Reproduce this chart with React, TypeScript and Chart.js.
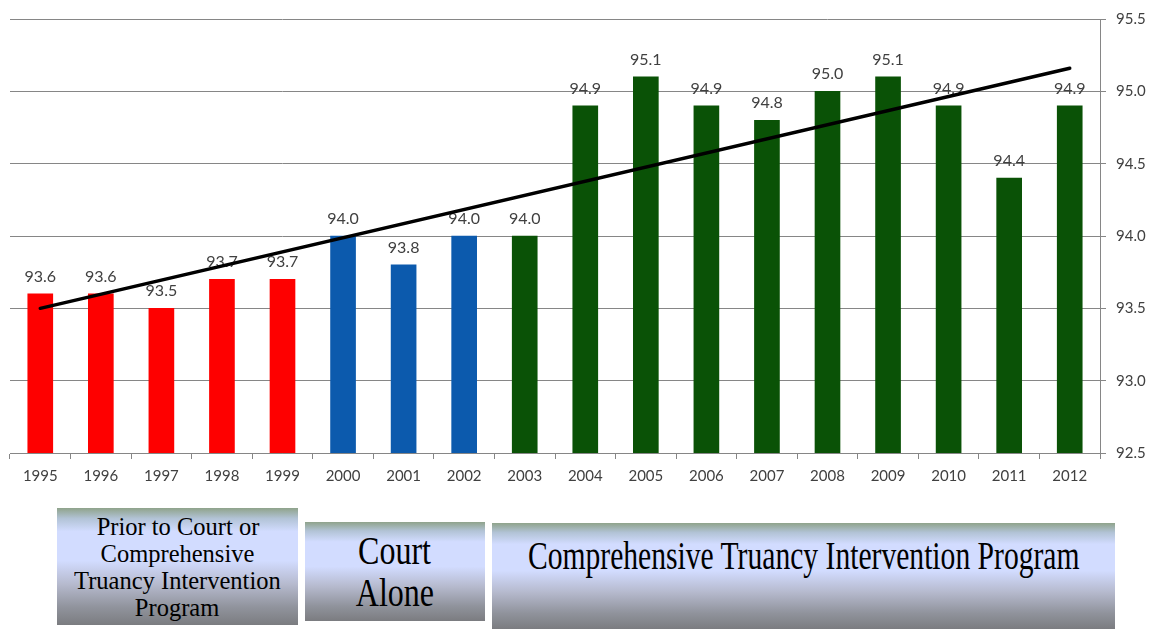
import React, { useEffect, useRef } from "react";
import { Chart, registerables } from "chart.js";

Chart.register(...registerables);

// ---- data ----
const years = ["1995", "1996", "1997", "1998", "1999", "2000", "2001", "2002", "2003", "2004", "2005", "2006", "2007", "2008", "2009", "2010", "2011", "2012"];
const attendanceRates = [93.6, 93.6, 93.5, 93.7, 93.7, 94.0, 93.8, 94.0, 94.0, 94.9, 95.1, 94.9, 94.8, 95.0, 95.1, 94.9, 94.4, 94.9];
// period index for each year: 0 = prior, 1 = court alone, 2 = comprehensive program
const periodOfYear = [0, 0, 0, 0, 0, 1, 1, 1, 2, 2, 2, 2, 2, 2, 2, 2, 2, 2];
const periodNames = [
  ["Prior to Court or", "Comprehensive", "Truancy Intervention", "Program"],
  ["Court", "Alone"],
  ["Comprehensive Truancy Intervention Program"],
];
const trendStart = 93.5;
const trendEnd = 95.16;
const yMin = 92.5;
const yMax = 95.5;
const yStep = 0.5;

const periodColors = ["#fe0000", "#0c5aad", "#0a5206"];
const FONT = "Lato, 'Noto Sans', sans-serif";

const barLabelPlugin = {
  id: "barLabels",
  afterDatasetDraw(chart: any, args: any) {
    if (args.index !== 0) return;
    const ctx = chart.ctx;
    ctx.save();
    ctx.font = `16px ${FONT}`;
    ctx.fillStyle = "#404040";
    ctx.textAlign = "center";
    ctx.textBaseline = "alphabetic";
    args.meta.data.forEach((el: any, i: number) => {
      ctx.fillText(attendanceRates[i].toFixed(1), el.x, el.y - 12);
    });
    ctx.restore();
  },
};

function ChartCanvas() {
  const ref = useRef<HTMLCanvasElement | null>(null);
  useEffect(() => {
    if (!ref.current) return;
    const last = years.length - 1;
    const chart = new Chart(ref.current, {
      type: "bar",
      data: {
        labels: years,
        datasets: [
          {
            type: "bar",
            data: attendanceRates,
            backgroundColor: periodOfYear.map((p) => periodColors[p]),
            barThickness: 25,
            order: 1,
          } as any,
          {
            type: "line",
            data: years.map((_, i) => (i === 0 ? trendStart : i === last ? trendEnd : null)),
            borderColor: "#000000",
            borderWidth: 3.5,
            borderCapStyle: "round",
            pointRadius: 0,
            spanGaps: true,
            fill: false,
            order: 0,
          } as any,
        ],
      },
      options: {
        responsive: false,
        animation: false,
        devicePixelRatio: 1,
        layout: { padding: { top: 16, left: 10, right: 0, bottom: 0 } },
        plugins: { legend: { display: false }, tooltip: { enabled: false } },
        scales: {
          x: {
            grid: { drawOnChartArea: false, drawTicks: true, tickLength: 6, color: "#868686", offset: true },
            border: { color: "#868686" },
            ticks: { color: "#404040", font: { family: FONT, size: 15 }, padding: 8, maxRotation: 0 },
            afterFit: (s: any) => {
              s.height = 47;
            },
          },
          y: {
            position: "right",
            min: yMin,
            max: yMax,
            ticks: {
              stepSize: yStep,
              color: "#404040",
              font: { family: FONT, size: 15 },
              padding: 10,
              callback: (v: any) => Number(v).toFixed(1),
            },
            grid: { color: "#868686", tickLength: 6 },
            border: { color: "#868686" },
            afterFit: (s: any) => {
              s.width = 51;
            },
          },
        },
      } as any,
      plugins: [barLabelPlugin],
    });
    return () => chart.destroy();
  }, []);
  return <canvas ref={ref} width={1151} height={500} style={{ position: "absolute", left: 0, top: 0 }} />;
}

const boxGradient =
  "linear-gradient(180deg, #8fa38b 0%, #b2c3d6 9%, #d2dcff 20%, #d2dcff 45%, #b6bace 65%, #90939c 85%, #7b7c80 100%)";

const boxes = [
  { left: 57, top: 508, width: 241, height: 117, fontSize: 25, lineHeight: 27, scaleX: 0.98, align: "center", padTop: 0 },
  { left: 305, top: 522, width: 180, height: 99, fontSize: 40, lineHeight: 42, scaleX: 0.8, align: "center", padTop: 0 },
  { left: 492, top: 523, width: 623, height: 106, fontSize: 40, lineHeight: 46, scaleX: 0.74, align: "flex-start", padTop: 10 },
];

export default function App() {
  return (
    <div style={{ position: "absolute", left: 0, top: 0, width: 1151, height: 629, background: "#ffffff", overflow: "hidden" }}>
      <ChartCanvas />
      {boxes.map((b, i) => (
        <div
          key={i}
          style={{
            position: "absolute",
            left: b.left,
            top: b.top,
            width: b.width,
            height: b.height,
            background: boxGradient,
            display: "flex",
            flexDirection: "column",
            justifyContent: b.align,
            alignItems: "center",
            paddingTop: b.padTop,
            boxSizing: "border-box",
            fontFamily: "'Liberation Serif', 'Times New Roman', serif",
            fontSize: b.fontSize,
            lineHeight: `${b.lineHeight}px`,
            color: "#000",
          }}
        >
          {periodNames[i].map((line, j) => (
            <div key={j} style={{ whiteSpace: "nowrap", transform: `scaleX(${b.scaleX})`, transformOrigin: "center" }}>
              {line}
            </div>
          ))}
        </div>
      ))}
    </div>
  );
}
